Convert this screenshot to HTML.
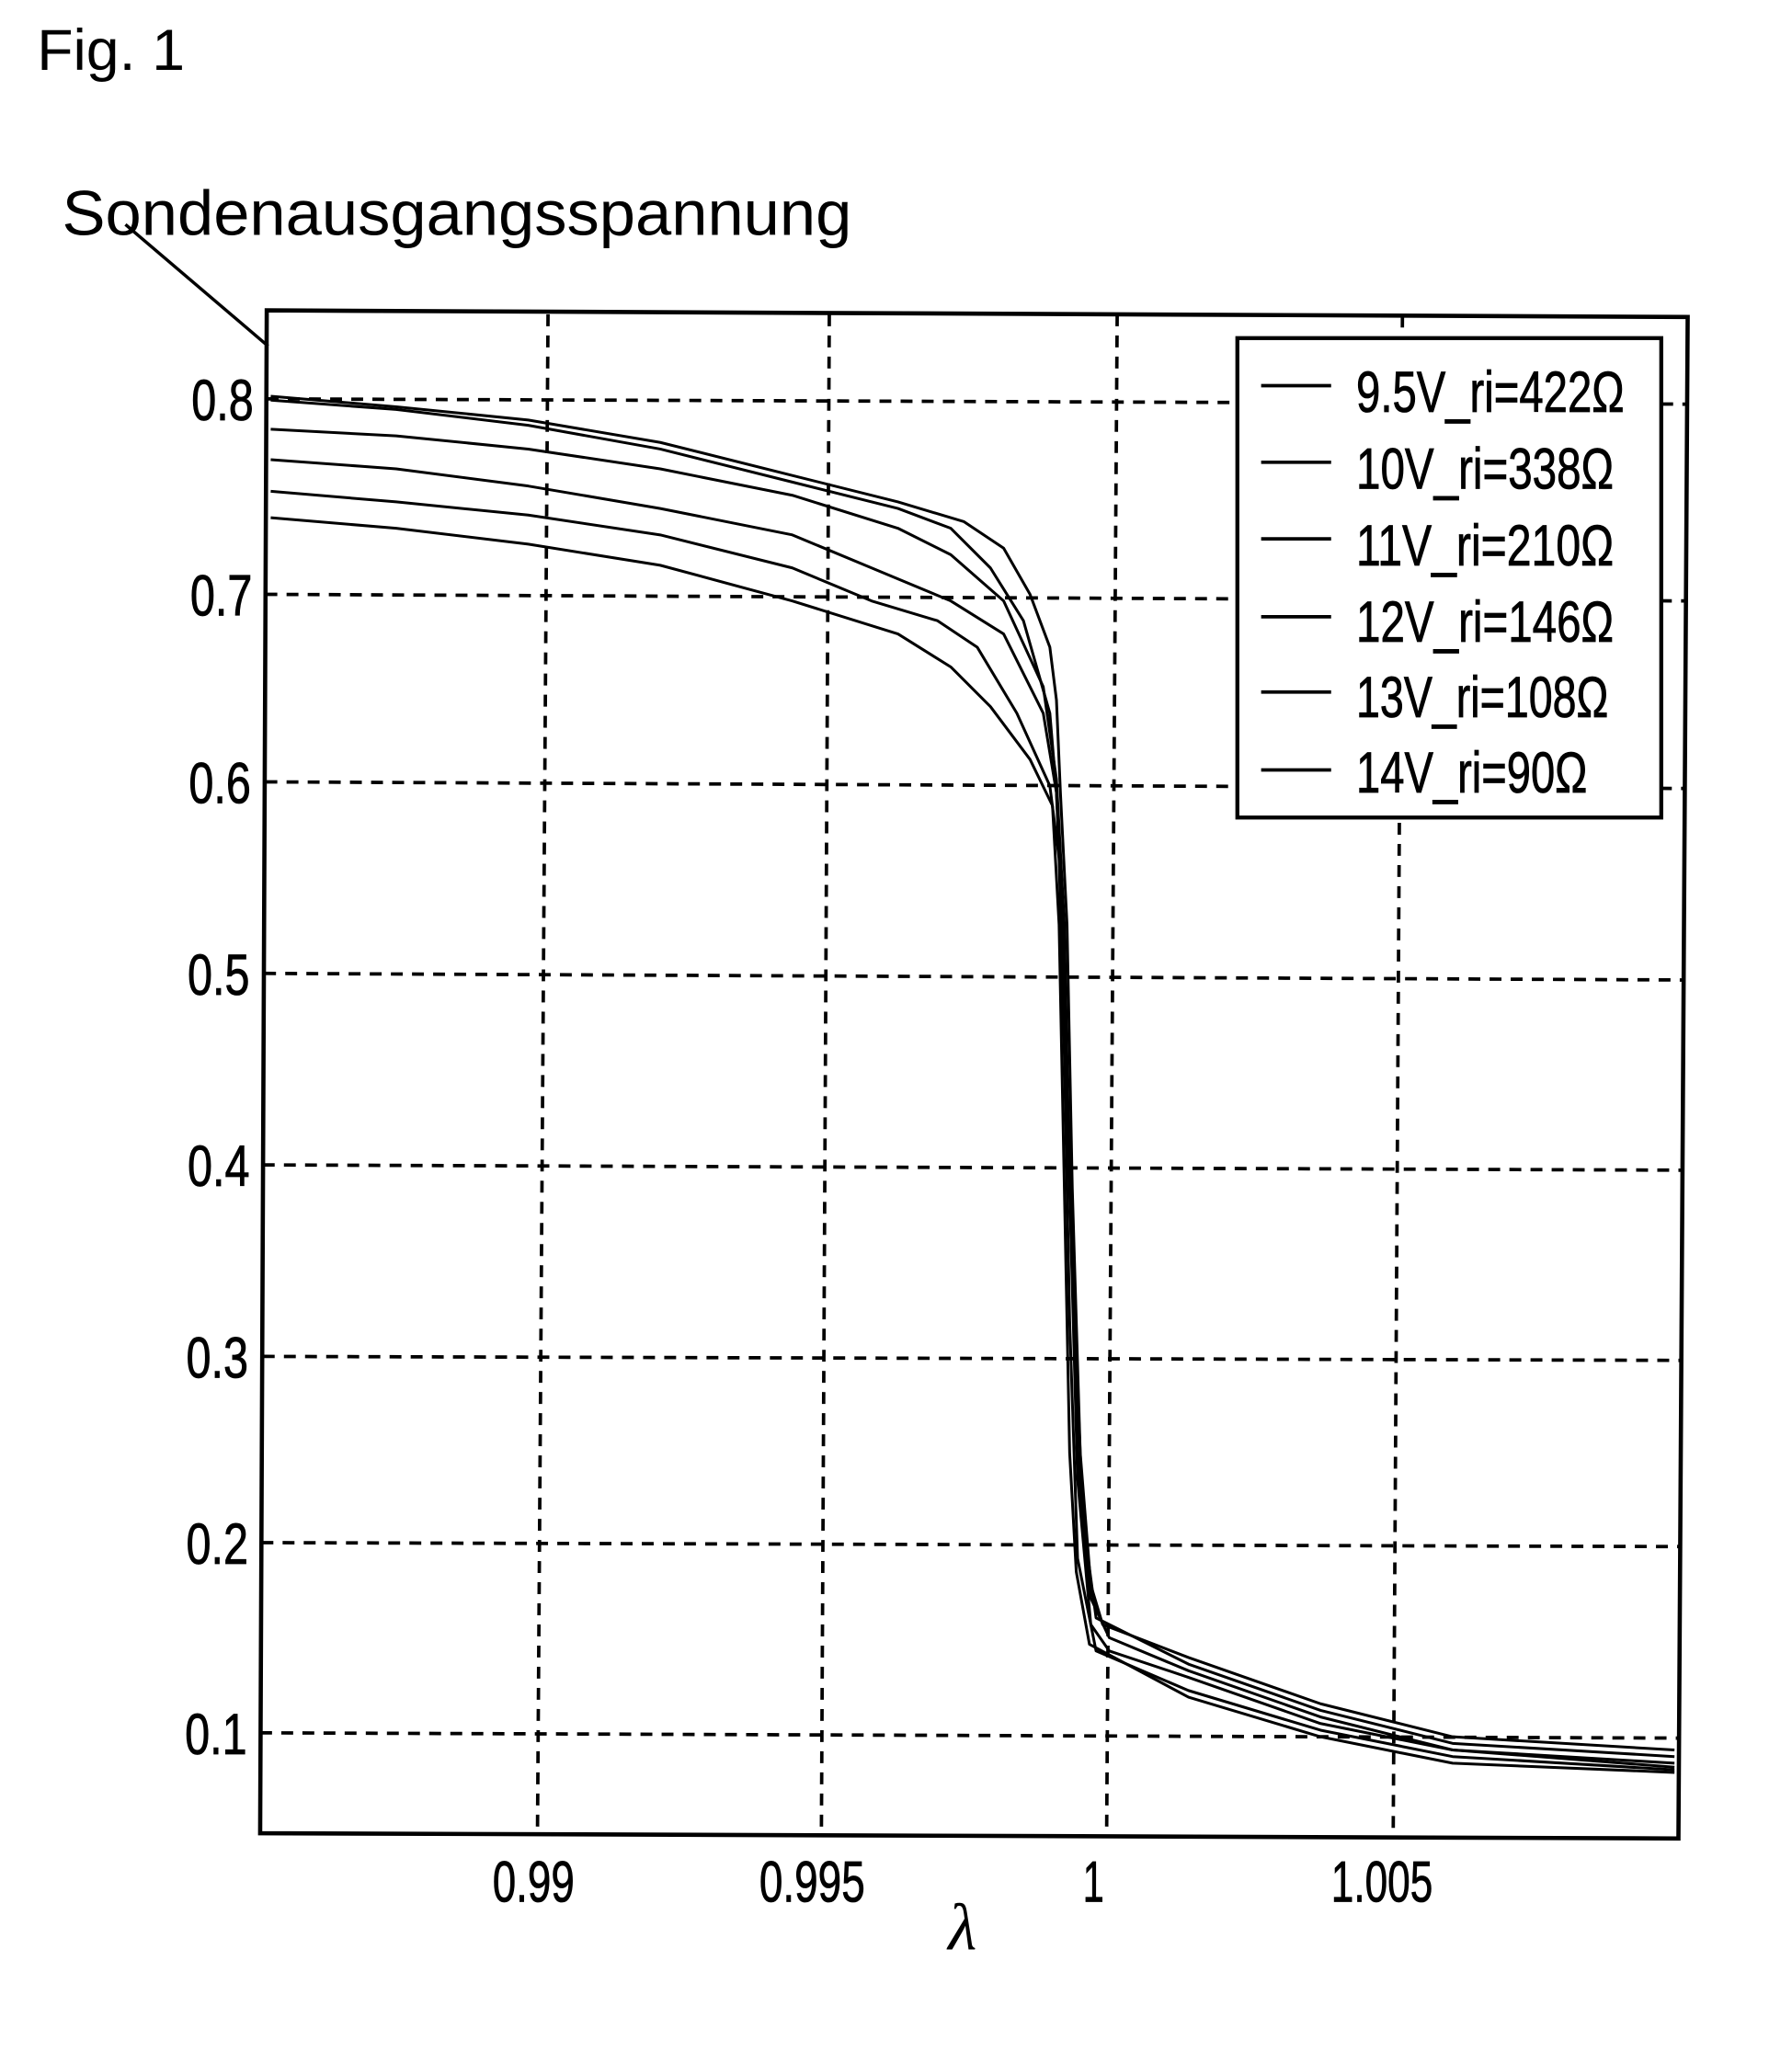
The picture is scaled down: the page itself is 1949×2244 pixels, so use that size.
<!DOCTYPE html>
<html><head><meta charset="utf-8"><style>html,body{margin:0;padding:0;background:#fff}svg{display:block}</style></head>
<body>
<svg width="1949" height="2244" viewBox="0 0 1357 1562" preserveAspectRatio="none" xmlns="http://www.w3.org/2000/svg" font-family="Liberation Sans, sans-serif">
<rect width="1357" height="1562" fill="#fff"/>
<text x="28" y="53" font-size="44" textLength="112" lengthAdjust="spacingAndGlyphs">Fig. 1</text>
<text x="47" y="178" font-size="48" textLength="598" lengthAdjust="spacingAndGlyphs">Sondenausgangsspannung</text>
<line x1="95" y1="170" x2="203" y2="262" stroke="#000" stroke-width="2.4"/>
<g stroke="#000" stroke-width="2.6" stroke-dasharray="9 7" fill="none">
<line x1="415" y1="238" x2="407" y2="1389"/>
<line x1="628" y1="238" x2="622" y2="1389"/>
<line x1="846" y1="238" x2="838" y2="1390"/>
<line x1="1062" y1="239" x2="1055" y2="1390"/>
<line x1="202" y1="302" x2="1277" y2="306"/>
<line x1="201" y1="450" x2="1276" y2="455"/>
<line x1="201" y1="592" x2="1275" y2="597"/>
<line x1="200" y1="737" x2="1274" y2="742"/>
<line x1="199" y1="882" x2="1273" y2="886"/>
<line x1="199" y1="1027" x2="1272" y2="1030"/>
<line x1="198" y1="1168" x2="1272" y2="1171"/>
<line x1="197" y1="1312" x2="1271" y2="1316"/>
</g>
<g stroke="#000" stroke-width="2.1" fill="none" stroke-linejoin="round">
<polyline points="205,300 300,308 400,318 500,335 600,360 680,380 730,395 760,415 780,450 795,490 800,530 803,600 808,700 812,900 818,1100 826,1200 835,1230 900,1255 1000,1290 1100,1315 1268,1325"/>
<polyline points="205,303 300,310 400,322 500,340 600,365 680,385 720,400 750,430 775,470 795,540 800,600 806,750 812,950 820,1150 830,1225 900,1260 1000,1295 1100,1320 1268,1330"/>
<polyline points="205,325 300,330 400,340 500,355 600,375 680,400 720,420 760,455 790,520 800,590 806,700 810,900 816,1100 826,1210 840,1240 900,1265 1000,1300 1100,1325 1268,1335"/>
<polyline points="205,348 300,355 400,368 500,385 600,405 660,430 720,455 760,480 790,540 800,600 805,700 810,900 816,1120 826,1230 840,1250 900,1270 1000,1305 1100,1325 1268,1338"/>
<polyline points="205,372 300,380 400,390 500,405 600,430 660,455 710,470 740,490 770,540 795,595 802,650 806,800 810,1000 816,1180 830,1250 900,1280 1000,1310 1100,1330 1268,1340"/>
<polyline points="205,392 300,400 400,412 500,428 600,455 680,480 720,505 750,535 780,575 797,610 802,700 806,900 810,1100 815,1190 825,1245 900,1285 1000,1315 1100,1335 1268,1342"/>
</g>
<polygon points="202,235 1278,240 1271,1392 197,1388" fill="none" stroke="#000" stroke-width="3.2"/>
<rect x="937" y="256" width="321" height="363" fill="#fff" stroke="#000" stroke-width="3"/>
<g stroke="#000" stroke-width="2.6">
<line x1="955" y1="292" x2="1008" y2="292"/>
<line x1="955" y1="350" x2="1008" y2="350"/>
<line x1="955" y1="408" x2="1008" y2="408"/>
<line x1="955" y1="467" x2="1008" y2="467"/>
<line x1="955" y1="524" x2="1008" y2="524"/>
<line x1="955" y1="583" x2="1008" y2="583"/>
</g>
<g font-size="44" stroke="#000" stroke-width="0.6">
<text x="1027" y="312" textLength="203" lengthAdjust="spacingAndGlyphs">9.5V_ri=422Ω</text>
<text x="1027" y="370" textLength="195" lengthAdjust="spacingAndGlyphs">10V_ri=338Ω</text>
<text x="1027" y="428" textLength="195" lengthAdjust="spacingAndGlyphs">11V_ri=210Ω</text>
<text x="1027" y="486" textLength="195" lengthAdjust="spacingAndGlyphs">12V_ri=146Ω</text>
<text x="1027" y="543" textLength="191" lengthAdjust="spacingAndGlyphs">13V_ri=108Ω</text>
<text x="1027" y="600" textLength="175" lengthAdjust="spacingAndGlyphs">14V_ri=90Ω</text>
</g>
<g font-size="44" stroke="#000" stroke-width="0.6">
<text x="145" y="318" textLength="47" lengthAdjust="spacingAndGlyphs">0.8</text>
<text x="144" y="466" textLength="47" lengthAdjust="spacingAndGlyphs">0.7</text>
<text x="143" y="608" textLength="47" lengthAdjust="spacingAndGlyphs">0.6</text>
<text x="142" y="753" textLength="47" lengthAdjust="spacingAndGlyphs">0.5</text>
<text x="142" y="898" textLength="47" lengthAdjust="spacingAndGlyphs">0.4</text>
<text x="141" y="1043" textLength="47" lengthAdjust="spacingAndGlyphs">0.3</text>
<text x="141" y="1184" textLength="47" lengthAdjust="spacingAndGlyphs">0.2</text>
<text x="140" y="1328" textLength="47" lengthAdjust="spacingAndGlyphs">0.1</text>
<text x="373" y="1440" textLength="62" lengthAdjust="spacingAndGlyphs">0.99</text>
<text x="575" y="1440" textLength="80" lengthAdjust="spacingAndGlyphs">0.995</text>
<text x="820" y="1440" textLength="16" lengthAdjust="spacingAndGlyphs">1</text>
<text x="1008" y="1440" textLength="77" lengthAdjust="spacingAndGlyphs">1.005</text>
</g>
<text x="718" y="1476" font-size="50" font-family="Liberation Serif, serif" font-style="italic">λ</text>
</svg>
</body></html>
